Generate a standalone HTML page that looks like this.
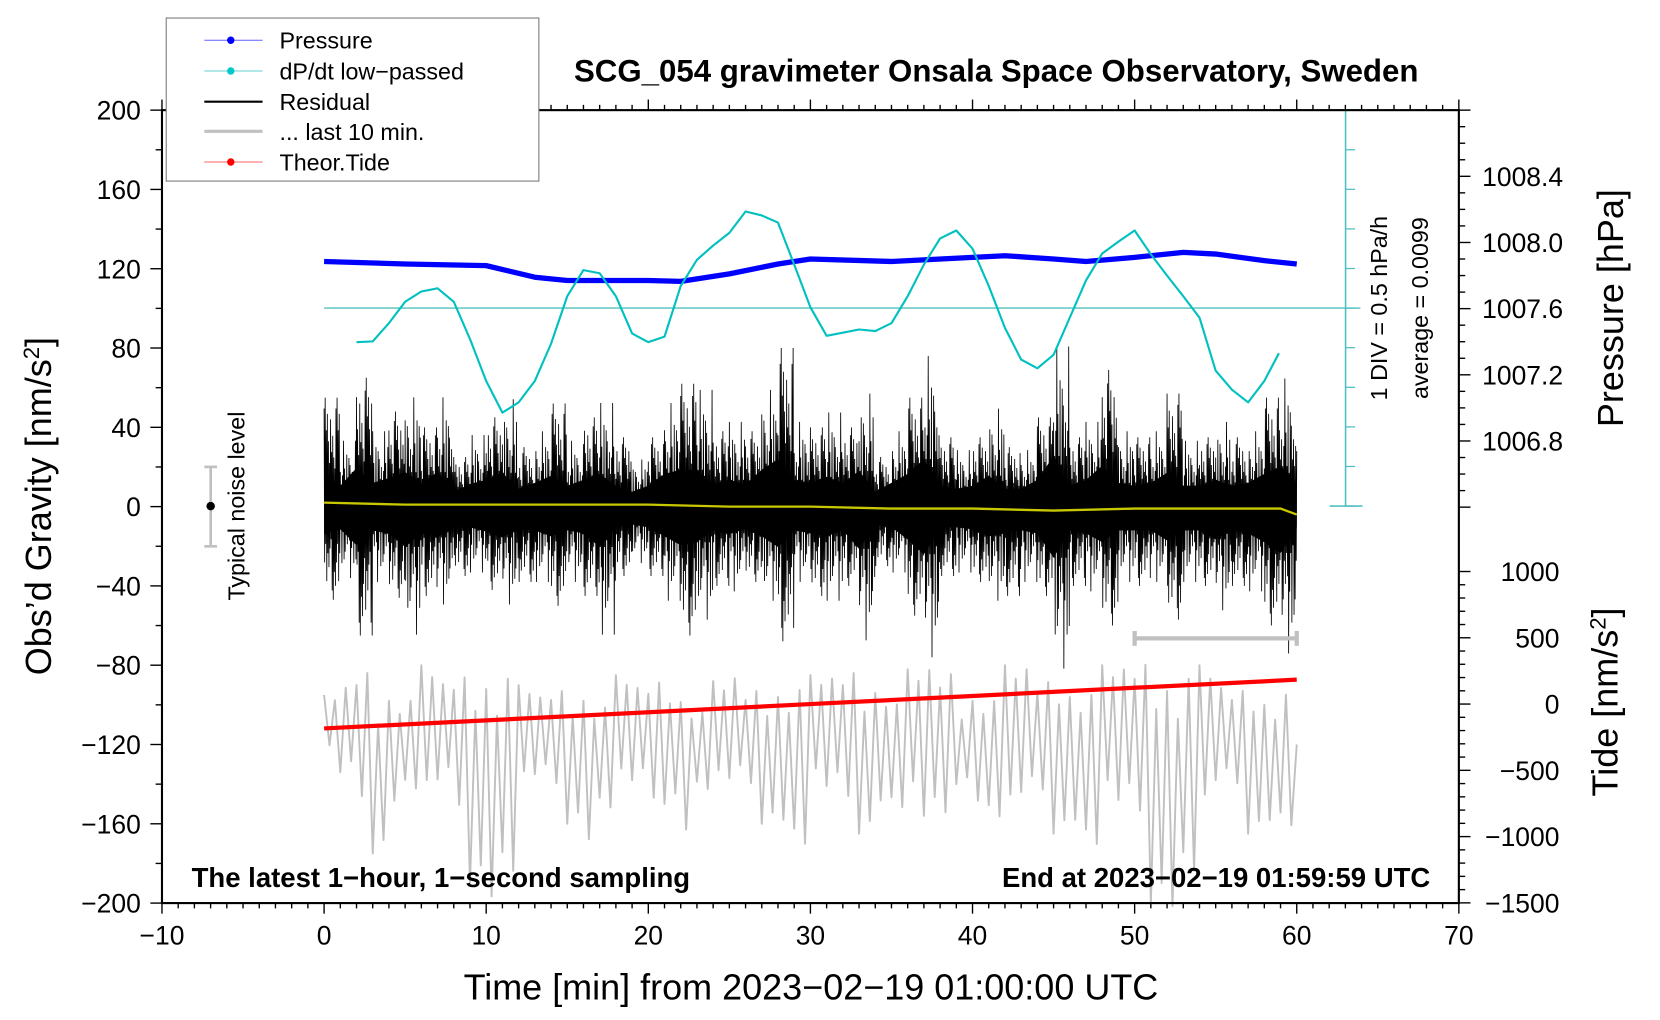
<!DOCTYPE html>
<html><head><meta charset="utf-8"><style>
html,body{margin:0;padding:0;background:#fff;}
svg{display:block;font-family:"Liberation Sans",Arial,sans-serif;}
</style></head><body>
<svg id="chart" width="1660" height="1020" viewBox="0 0 1568 963.4" xmlns="http://www.w3.org/2000/svg">
<rect x="0" y="0" width="1568" height="963.4" fill="#fff"/>
<g id="marks"></g>
<g id="axes"></g>
<text x="941" y="77" font-size="29.5" font-weight="bold" text-anchor="middle">SCG_054 gravimeter Onsala Space Observatory, Sweden</text>
<text x="766" y="944" font-size="34" text-anchor="middle">Time [min] from 2023−02−19 01:00:00 UTC</text>
<text transform="translate(48,478) rotate(-90)" font-size="34" text-anchor="middle">Obs’d Gravity [nm/s<tspan baseline-shift="super" font-size="21">2</tspan>]</text>
<text transform="translate(1533,291) rotate(-90)" font-size="34" text-anchor="middle">Pressure [hPa]</text>
<text transform="translate(1528,663) rotate(-90)" font-size="34" text-anchor="middle">Tide [nm/s<tspan baseline-shift="super" font-size="21">2</tspan>]</text>
<text x="181" y="838" font-size="26" font-weight="bold">The latest 1−hour, 1−second sampling</text>
<text x="1351" y="838" font-size="26" font-weight="bold" text-anchor="end">End at 2023−02−19 01:59:59 UTC</text>
<text transform="translate(1310,291) rotate(-90)" font-size="22" text-anchor="middle">1 DIV = 0.5 hPa/h</text>
<text transform="translate(1349,291) rotate(-90)" font-size="22" text-anchor="middle">average = 0.0099</text>
<text transform="translate(231,478) rotate(-90)" font-size="22" text-anchor="middle">Typical noise level</text>
<g stroke="#c0c0c0" stroke-width="2.5">
<line x1="199" y1="441" x2="199" y2="516"/><line x1="193" y1="441" x2="205" y2="441"/><line x1="193" y1="516" x2="205" y2="516"/>
</g>
<circle cx="199" cy="478" r="4" fill="#000"/>
<g>
<rect x="157" y="17" width="352" height="154" fill="#fff" stroke="#777" stroke-width="1"/>
<g><line x1="193" y1="38" x2="248" y2="38" stroke="#6060ff" stroke-width="1"/><circle cx="218" cy="38" r="3.5" fill="#0000ff"/><text x="264" y="46" font-size="22">Pressure</text></g>
<g><line x1="193" y1="67" x2="248" y2="67" stroke="#60d0d0" stroke-width="1"/><circle cx="218" cy="67" r="3.5" fill="#00c8c8"/><text x="264" y="75" font-size="22">dP/dt low−passed</text></g>
<g><line x1="193" y1="96" x2="248" y2="96" stroke="#000" stroke-width="2"/><text x="264" y="104" font-size="22">Residual</text></g>
<g><line x1="193" y1="124" x2="248" y2="124" stroke="#c0c0c0" stroke-width="3"/><text x="264" y="132" font-size="22">... last 10 min.</text></g>
<g><line x1="193" y1="153" x2="248" y2="153" stroke="#ff6060" stroke-width="1"/><circle cx="218" cy="153" r="3.5" fill="#ff0000"/><text x="264" y="161" font-size="22">Theor.Tide</text></g>
</g>
</svg>
<script>
// ---- data ----
const pressTimes = [0,5,10,13,15,20,22,25,28,30,35,40,42,45,47,50,53,55,58,60];
const pressVals = [1007.885,1007.87,1007.86,1007.79,1007.77,1007.77,1007.765,1007.81,1007.87,1007.90,1007.885,1007.91,1007.92,1007.90,1007.885,1007.91,1007.94,1007.93,1007.89,1007.87];
const dpdtTimes = [2,3,4,5,6,7,8,9,10,11,12,13,14,15,16,17,18,19,20,21,22,23,24,25,26,27,28,29,30,31,32,33,34,35,36,37,38,39,40,41,42,43,44,45,46,47,48,49,50,51,52,53,54,55,56,57,58,58.9];
const dpdtVals = [-0.43,-0.42,-0.19,0.08,0.21,0.25,0.08,-0.39,-0.92,-1.32,-1.19,-0.92,-0.45,0.15,0.48,0.44,0.15,-0.32,-0.43,-0.36,0.28,0.61,0.79,0.95,1.22,1.17,1.08,0.55,0.01,-0.35,-0.31,-0.27,-0.29,-0.19,0.15,0.55,0.88,0.98,0.75,0.28,-0.25,-0.65,-0.76,-0.59,-0.12,0.35,0.69,0.84,0.98,0.68,0.41,0.15,-0.12,-0.79,-1.03,-1.19,-0.92,-0.57];
const tideTimes = [0,10,20,30,40,50,60];
const tideVals = [-184,-123,-62,0,61,123,184];
const meanTimes = [0,5,10,15,20,25,30,35,40,45,50,55,59,60];
const meanVals = [2,1,1,1,1,0,0,-1,-1,-2,-1,-1,-1,-4];
const resHi = [55,35,65,40,48,58,40,58,25,38,45,57,30,40,52,35,45,55,35,25,35,55,62,62,38,45,38,62,80,45,40,50,40,60,25,40,55,80,35,30,35,52,30,30,45,85,35,45,69,40,35,40,57,35,35,45,35,40,55,68,40];
const resLo = [-47,-38,-65,-40,-46,-68,-45,-52,-35,-35,-42,-52,-38,-40,-50,-40,-45,-68,-35,-30,-35,-50,-65,-60,-40,-45,-38,-50,-68,-40,-45,-50,-40,-71,-30,-35,-55,-80,-35,-35,-38,-50,-45,-40,-45,-86,-40,-45,-60,-40,-40,-40,-57,-40,-40,-55,-40,-45,-60,-78,-35];
const grayHi = [-95,-90,-80,-85,-85,-88,-80,-88,-82,-70,-65,-65,-90,-95,-90,-85,-80,-90,-85,-90,-85,-80,-82,-95,-88,-85,-90,-85,-80,-75,-85,-85,-80,-80,-80,-88,-82,-80,-80,-95,-85,-85,-80,-80,-85,-75,-80,-78,-80,-80,-75,-65,-65,-65,-80,-90,-90,-80,-85,-80,-120];
const grayLo = [-130,-145,-160,-175,-150,-145,-160,-150,-165,-190,-200,-190,-150,-145,-150,-160,-170,-155,-150,-150,-160,-150,-165,-145,-150,-150,-150,-160,-160,-175,-150,-155,-160,-165,-150,-155,-160,-175,-170,-140,-150,-160,-170,-160,-155,-165,-160,-175,-160,-165,-170,-200,-205,-190,-170,-150,-150,-165,-160,-165,-130];
const xTicks = [-10,0,10,20,30,40,50,60,70];
const yTicks = [200,160,120,80,40,0,-40,-80,-120,-160,-200];
const pTicks = [1008.4,1008.0,1007.6,1007.2,1006.8];
const tTicks = [1000,500,0,-500,-1000,-1500];

// ---- scales ----
const X0=153,X1=1378,Y0=104,Y1=853;
const xs = t => X0 + (t+10)/80*(X1-X0);
const ys = v => Y1 - (v+200)/400*(Y1-Y0);
const ps = p => 229 - (p-1008.0)/0.4*62.5;
const ts = v => 665 - v/500*62.6;
const ds = d => 291 - d/0.5*37.4;
const NS="http://www.w3.org/2000/svg";
const marks=document.getElementById('marks'), axes=document.getElementById('axes');
function mk(tag, attrs, parent){const e=document.createElementNS(NS,tag);for(const k in attrs)e.setAttribute(k,attrs[k]);parent.appendChild(e);return e;}
function pts(arr){return arr.map(p=>p[0].toFixed(2)+','+p[1].toFixed(2)).join(' ');}

// gray last 10 min
const pat=[1,0.45,0.85,0.6,0.95,0.4,0.75,0.65,0.9];
let g=[];
let gi=0;
for(let i=0;i<grayHi.length;i++){
  const c=(grayHi[i]+grayLo[i])/2;
  const n = i<grayHi.length-1?3:1;
  for(let k=0;k<n;k++){
    const t=i+k/3;
    const f=pat[gi%pat.length];
    const v = (gi%2===0)? c+(grayHi[i]-c)*f : c+(grayLo[i]-c)*f;
    g.push([xs(t),ys(v)]);
    gi++;
  }
}
const gl=mk('polyline',{points:pts(g),fill:'none',stroke:'#c0c0c0','stroke-width':1.8,'stroke-linejoin':'round'},marks);



// residual core fill
let up=[],dn=[];
for(let i=0;i<resHi.length;i++){up.push([xs(i),ys(resHi[i]*0.3)]);dn.push([xs(i),ys(resLo[i]*0.3)]);}
const core=mk('polygon',{points:pts(up.concat(dn.reverse())),fill:'#000'},marks);


// residual zigzag
const rp=[0.9,0.35,1,0.5,0.7,0.3,0.85,0.45,0.6,0.95,0.4,0.55,0.8,0.3,0.5,0.75,0.65,0.25,0.45,0.7,0.35,0.6];
let r=[];
for(let i=0;i<resHi.length;i++){
  const n=i<resHi.length-1?30:1;
  for(let k=0;k<n;k++){
    const t=i+k/30;
    const v = k%2===0? resHi[i]*rp[(k+i*3)%rp.length] : resLo[i]*rp[(k+i*5+7)%rp.length];
    r.push([xs(t), ys(v)]);
  }
}
const rl=mk('polyline',{points:pts(r),fill:'none',stroke:'#000','stroke-width':0.8},marks);



// mean (yellow)
const ml=mk('polyline',{points:pts(meanTimes.map((t,i)=>[xs(t),ys(meanVals[i])])),fill:'none',stroke:'#c8c800','stroke-width':2.2},marks);



// tide (red)
const tl=mk('polyline',{points:pts(tideTimes.map((t,i)=>[xs(t),ts(tideVals[i])])),fill:'none',stroke:'#ff0000','stroke-width':4},marks);



// pressure (blue)
const pl=mk('polyline',{points:pts(pressTimes.map((t,i)=>[xs(t),ps(pressVals[i])])),fill:'none',stroke:'#0000ff','stroke-width':5,'stroke-linejoin':'round'},marks);



// dP/dt zero line + axis
const z=mk('line',{x1:xs(0),y1:ds(0),x2:1285,y2:ds(0),stroke:'#50c0c0','stroke-width':1.3},marks);


const da=mk('line',{x1:1271,y1:Y0,x2:1271,y2:478,stroke:'#50c0c0','stroke-width':1.5},marks);


for(let d=2.5;d>=-2.5;d-=0.5){mk('line',{x1:1271,y1:ds(d),x2:1280,y2:ds(d),stroke:'#50c0c0','stroke-width':1.2},marks);}
mk('line',{x1:1256,y1:478,x2:1287,y2:478,stroke:'#50c0c0','stroke-width':1.5},marks);
const dl=mk('polyline',{points:pts(dpdtTimes.map((t,i)=>[xs(t),ds(dpdtVals[i])])),fill:'none',stroke:'#00c0c0','stroke-width':2,'stroke-linejoin':'round'},marks);



// gray scale bar
const sb=mk('g',{stroke:'#c0c0c0','stroke-width':4},marks);


mk('line',{x1:xs(50),y1:603,x2:xs(60),y2:603},sb);
mk('line',{x1:xs(50),y1:596,x2:xs(50),y2:610},sb);
mk('line',{x1:xs(60),y1:596,x2:xs(60),y2:610},sb);

// frame and ticks
const fr=mk('rect',{x:X0,y:Y0,width:X1-X0,height:Y1-Y0,fill:'none',stroke:'#000','stroke-width':2},axes);


for(let t=-10;t<=70;t++){const L=(t%10===0)?10:5;
  mk('line',{x1:xs(t),y1:Y1,x2:xs(t),y2:Y1+L,stroke:'#000','stroke-width':1.3},axes);
  mk('line',{x1:xs(t),y1:Y0,x2:xs(t),y2:Y0-L,stroke:'#000','stroke-width':1.3},axes);}
xTicks.forEach(t=>{const e=mk('text',{x:xs(t),y:Y1+39,'font-size':25,'text-anchor':'middle'},axes);e.textContent=String(t).replace('-','−');
  
  });
for(let v=-200;v<=200;v+=20){const L=(v%40===0)?11:6;mk('line',{x1:X0,y1:ys(v),x2:X0-L,y2:ys(v),stroke:'#000','stroke-width':1.3},axes);}
yTicks.forEach(v=>{const e=mk('text',{x:X0-20,y:ys(v)+9,'font-size':25,'text-anchor':'end'},axes);e.textContent=String(v).replace('-','−');
  
  });
for(let i=0;i<=24;i++){const p=1008.8-i*0.1;const y=ps(p);if(y<Y0)continue;const maj=Math.abs((p*10)%4)<0.01||Math.abs((p*10)%4-4)<0.01;
  mk('line',{x1:X1,y1:y,x2:X1+(maj?11:6),y2:y,stroke:'#000','stroke-width':1.3},axes);}
pTicks.forEach(p=>{const e=mk('text',{x:1400,y:ps(p)+9,'font-size':25},axes);e.textContent=p.toFixed(1);
  
  });
for(let v=-1500;v<=1000;v+=100){const maj=v%500===0;mk('line',{x1:X1,y1:ts(v),x2:X1+(maj?11:6),y2:ts(v),stroke:'#000','stroke-width':1.3},axes);}
tTicks.forEach(v=>{const e=mk('text',{x:1473,y:ts(v)+9,'font-size':25,'text-anchor':'end'},axes);e.textContent=String(v).replace('-','−');
  
  });
</script>
</body></html>
